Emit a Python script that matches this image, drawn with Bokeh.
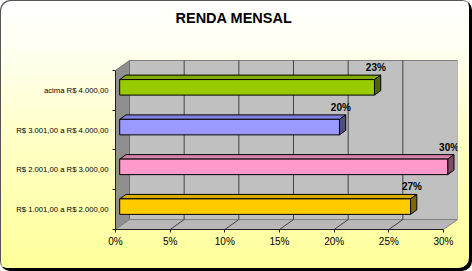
from bokeh.plotting import figure
from bokeh.models import Range1d, FixedTicker, NumeralTickFormatter, ColumnDataSource
from bokeh.core.properties import value
from bokeh.embed import file_html
from bokeh.resources import INLINE

# ---- data ----
categories = ["R$ 1.001,00 a R$ 2.000,00", "R$ 2.001,00 a R$ 3.000,00",
              "R$ 3.001,00 a R$ 4.000,00", "acima R$ 4.000,00"]
shares = [0.266, 0.300, 0.201, 0.233]
x_ticks = [0.0, 0.05, 0.10, 0.15, 0.20, 0.25, 0.30]
title_text = "RENDA MENSAL"

front_colors = ["#FFCC00", "#FF99CC", "#9999FF", "#99CC00"]
top_colors = ["#D9AD00", "#D982AD", "#8080DD", "#82AD00"]
side_colors = ["#806600", "#804D66", "#4D4D80", "#4D6600"]

# ---- 3D geometry (depth of the box in data units) ----
XMAX = 0.30
DX = 0.0128
DY = 0.25
TOP_PAD = 0.805
NCAT = len(categories)
BAR_H = 0.39
D1, D2 = 0.30, 0.75

FONT = "Liberation Sans"

p = figure(width=472, height=271, output_backend="svg", toolbar_location=None,
           x_range=Range1d(0, XMAX + DX), y_range=Range1d(0, NCAT + DY + TOP_PAD),
           min_border_left=115, min_border_right=15, min_border_top=28, min_border_bottom=42,
           title=title_text)
p.border_fill_color = None
p.background_fill_color = None
p.outline_line_color = None
p.xgrid.visible = False
p.ygrid.visible = False
p.styles = {
    "background": "linear-gradient(to bottom, #FFFFFF 0%, #FFFFF4 15%, #FFFFC8 50%, #FFFF99 100%)",
    "border-radius": "10px",
    "box-shadow": "inset 1px 1px 0 #555555, inset -3px -3px 0 #000000",
}
p.title.align = "left"
p.title.offset = 60
p.title.vertical_align = "bottom"
p.title.standoff = 6
p.title.text_font = FONT
p.title.text_font_size = "14.5px"
p.title.text_font_style = "bold"
p.title.text_color = "#000000"

# back wall
p.quad(left=[DX], right=[XMAX + DX], bottom=[DY], top=[NCAT + DY],
       fill_color="#C0C0C0", line_color="#808080", line_width=1)
# left side wall
p.patch([0, DX, DX, 0], [0, DY, NCAT + DY, NCAT], fill_color="#8F8F8F",
        line_color="#707070", line_width=1)
# floor
p.patch([0, XMAX, XMAX + DX, DX], [0, 0, DY, DY], fill_color="#B8B8B8",
        line_color="#808080", line_width=1)

# gridlines on back wall and floor
grid_vals = x_ticks[1:-1]
p.segment(x0=[g + DX for g in grid_vals], y0=[DY] * len(grid_vals),
          x1=[g + DX for g in grid_vals], y1=[NCAT + DY] * len(grid_vals),
          line_color="#404040", line_width=1)
p.segment(x0=grid_vals, y0=[0] * len(grid_vals),
          x1=[g + DX for g in grid_vals], y1=[DY] * len(grid_vals),
          line_color="#404040", line_width=1)

# bars
d1x, d1y = D1 * DX, D1 * DY
d2x, d2y = D2 * DX, D2 * DY
centers = [i + 0.5 for i in range(NCAT)]
for c, v, fc, tc, sc in zip(centers, shares, front_colors, top_colors, side_colors):
    b = c - BAR_H / 2
    t = c + BAR_H / 2
    p.patch([d1x, v + d1x, v + d2x, d2x], [t + d1y, t + d1y, t + d2y, t + d2y],
            fill_color=tc, line_color="#000000", line_width=1)
    p.patch([v + d1x, v + d2x, v + d2x, v + d1x], [b + d1y, b + d2y, t + d2y, t + d1y],
            fill_color=sc, line_color="#000000", line_width=1)
    p.quad(left=[d1x], right=[v + d1x], bottom=[b + d1y], top=[t + d1y],
           fill_color=fc, line_color="#000000", line_width=1)

# value labels
lab_src = ColumnDataSource(dict(
    x=[v + 0.4 * DX for v in shares],
    y=[c + BAR_H / 2 + d2y for c in centers],
    t=[f"{round(v * 100)}%" for v in shares],
))
p.text(x="x", y="y", text="t", source=lab_src, text_align="center", text_baseline="bottom",
       y_offset=-2, text_font=value(FONT), text_font_size="10px", text_font_style="bold",
       text_color="#000000")

# axes
p.xaxis.ticker = FixedTicker(ticks=x_ticks)
p.xaxis.formatter = NumeralTickFormatter(format="0%")
p.xaxis.bounds = (0, XMAX)
p.xaxis.major_tick_out = 3
p.xaxis.major_tick_in = 0
p.xaxis.minor_tick_line_color = None
p.xaxis.major_label_standoff = 3
p.xaxis.major_label_text_font = FONT
p.xaxis.major_label_text_font_size = "10px"
p.xaxis.major_label_text_color = "#000000"
p.xaxis.axis_line_color = "#202020"
p.xaxis.major_tick_line_color = "#202020"

p.yaxis.ticker = FixedTicker(ticks=centers, minor_ticks=list(range(NCAT + 1)))
p.yaxis.major_label_overrides = {c: name for c, name in zip(centers, categories)}
p.yaxis.bounds = (0, NCAT)
p.yaxis.major_tick_line_color = None
p.yaxis.major_tick_out = 0
p.yaxis.major_tick_in = 0
p.yaxis.minor_tick_out = 3
p.yaxis.minor_tick_in = 0
p.yaxis.minor_tick_line_color = "#202020"
p.yaxis.major_label_standoff = 4
p.yaxis.major_label_text_font = FONT
p.yaxis.major_label_text_font_size = "7.7px"
p.yaxis.major_label_text_color = "#000000"
p.yaxis.axis_line_color = "#202020"

open("out.html", "w").write(file_html(p, INLINE))
